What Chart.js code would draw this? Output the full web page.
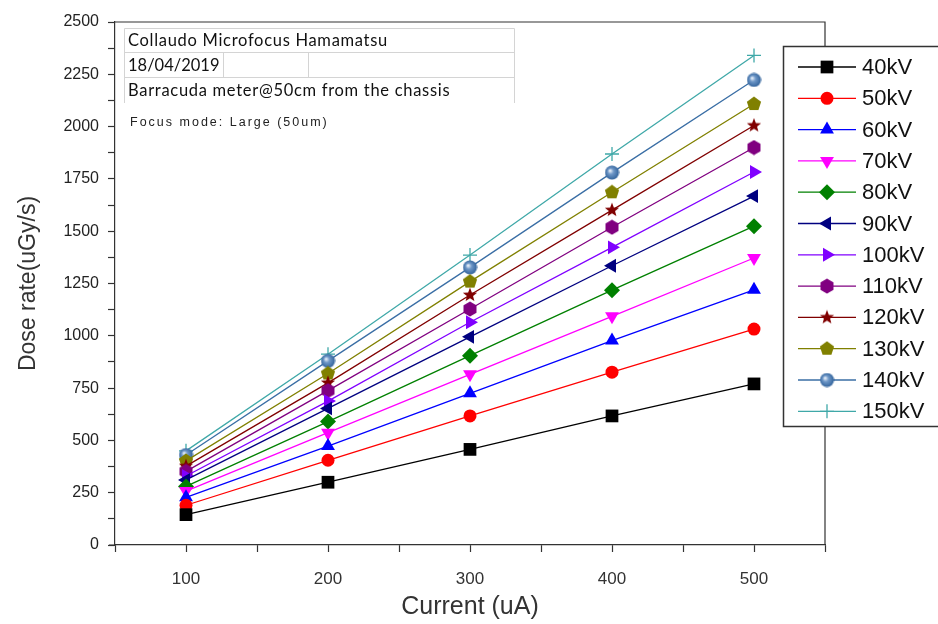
<!DOCTYPE html>
<html>
<head>
<meta charset="utf-8">
<script src="https://cdn.jsdelivr.net/npm/chart.js@4.4.1/dist/chart.umd.min.js"></script>
<style>
  html, body { margin: 0; padding: 0; background: #fff; }
  #wrap { width: 938px; height: 624px; }
</style>
</head>
<body>
<div id="wrap"><canvas id="doseChart" width="938" height="624"></canvas></div>
<script>
// currents (uA) on the x axis
const currents = [100, 200, 300, 400, 500];
const seriesLabels = ['40kV', '50kV', '60kV', '70kV', '80kV', '90kV', '100kV', '110kV', '120kV', '130kV', '140kV', '150kV'];

// dose rate (uGy/s) for each tube voltage
const dose40 = [145, 300, 457, 617, 770];
const dose50 = [190, 405, 617, 826, 1032];
const dose60 = [228, 473, 725, 977, 1220];
const dose70 = [258, 537, 816, 1093, 1372];
const dose80 = [280, 590, 905, 1218, 1524];
const dose90 = [311, 653, 995, 1335, 1668];
const dose100 = [330, 688, 1065, 1423, 1783];
const dose110 = [352, 738, 1128, 1519, 1900];
const dose120 = [377, 775, 1195, 1601, 2005];
const dose130 = [402, 820, 1259, 1686, 2108];
const dose140 = [430, 880, 1327, 1780, 2223];
const dose150 = [450, 912, 1386, 1869, 2340];

const doseSeries = [dose40, dose50, dose60, dose70, dose80, dose90, dose100, dose110, dose120, dose130, dose140, dose150];

const yTicksMajor = 250;
const xTicksMajor = 100;

// small canvases for marker shapes chart.js doesn't have
function shapeCanvas(color, sides, inner) {
  const c = document.createElement('canvas');
  c.width = 16; c.height = 16;
  const g = c.getContext('2d');
  g.fillStyle = color;
  g.beginPath();
  const n = inner ? sides * 2 : sides;
  for (let i = 0; i < n; i++) {
    const r = inner && i % 2 ? 3.2 : 7.5;
    const a = -Math.PI / 2 + i * 2 * Math.PI / n;
    const px = 8 + r * Math.cos(a), py = 8 + r * Math.sin(a);
    if (i === 0) g.moveTo(px, py); else g.lineTo(px, py);
  }
  g.closePath();
  g.fill();
  return c;
}

function ballCanvas(color) {
  const c = document.createElement('canvas');
  c.width = 15; c.height = 15;
  const g = c.getContext('2d');
  const grad = g.createRadialGradient(5.5, 5.5, 0.5, 7.5, 7.5, 7.5);
  grad.addColorStop(0, '#e8f0fa');
  grad.addColorStop(0.35, '#6f98c8');
  grad.addColorStop(1, color);
  g.fillStyle = grad;
  g.beginPath();
  g.arc(7.5, 7.5, 7, 0, Math.PI * 2);
  g.fill();
  return c;
}

const styles = [
  { color: '#000000', point: 'rect', radius: 9 },
  { color: '#ff0000', point: 'circle', radius: 6.5 },
  { color: '#0000ff', point: 'triangle', radius: 8 },
  { color: '#ff00ff', point: 'triangle', radius: 8, rotation: 180 },
  { color: '#008000', point: 'rectRot', radius: 8 },
  { color: '#000080', point: 'triangle', radius: 8, rotation: -90 },
  { color: '#8000ff', point: 'triangle', radius: 8, rotation: 90 },
  { color: '#800080', point: shapeCanvas('#800080', 6, false), radius: 7 },
  { color: '#800000', point: shapeCanvas('#800000', 5, true), radius: 7 },
  { color: '#808000', point: shapeCanvas('#808000', 5, false), radius: 7 },
  { color: '#3a6ea5', point: ballCanvas('#2d5f98'), radius: 7 },
  { color: '#3fa8a8', point: 'cross', radius: 7 }
];

const datasets = seriesLabels.map((label, i) => ({
  label: label,
  data: currents.map((c, j) => ({ x: c, y: doseSeries[i][j] })),
  borderColor: styles[i].color,
  backgroundColor: styles[i].color,
  borderWidth: 1.3,
  pointStyle: styles[i].point,
  pointRadius: styles[i].radius,
  pointRotation: styles[i].rotation || 0,
  pointBorderWidth: styles[i].point === 'cross' ? 1.3 : 0,
  pointHoverRadius: styles[i].radius,
  fill: false,
  tension: 0
}));

const frame = {
  id: 'frame',
  beforeDatasetsDraw(chart) {
    const { ctx, chartArea: a } = chart;
    ctx.save();
    ctx.strokeStyle = '#333';
    ctx.lineWidth = 1.2;
    ctx.beginPath();
    ctx.moveTo(a.left, a.top);
    ctx.lineTo(a.right, a.top);
    ctx.lineTo(a.right, a.bottom);
    ctx.moveTo(a.left - 6, a.bottom);
    ctx.lineTo(a.left, a.bottom);
    ctx.stroke();
    ctx.restore();
  }
};

const infoTable = {
  id: 'infoTable',
  afterDraw(chart) {
    const ctx = chart.ctx;
    ctx.save();
    ctx.strokeStyle = '#d4d4d4';
    ctx.lineWidth = 1;
    ctx.beginPath();
    ctx.moveTo(124.5, 103); ctx.lineTo(124.5, 28.5); ctx.lineTo(514.5, 28.5); ctx.lineTo(514.5, 103);
    ctx.moveTo(124.5, 52.5); ctx.lineTo(514.5, 52.5);
    ctx.moveTo(124.5, 77.5); ctx.lineTo(514.5, 77.5);
    ctx.moveTo(223.5, 52.5); ctx.lineTo(223.5, 77.5);
    ctx.moveTo(308.5, 52.5); ctx.lineTo(308.5, 77.5);
    ctx.stroke();
    ctx.fillStyle = '#111';
    ctx.font = '16.5px Lato, "Open Sans", sans-serif';
    ctx.textBaseline = 'middle';
    ctx.letterSpacing = '0.7px';
    ctx.fillText('Collaudo Microfocus Hamamatsu', 128, 41);
    ctx.fillText('Barracuda meter@50cm from the chassis', 128, 91);
    ctx.letterSpacing = '0px';
    ctx.fillText('18/04/2019', 128, 65.5);
    ctx.fillStyle = '#222';
    ctx.font = '12.5px "Liberation Sans", Arial, sans-serif';
    ctx.letterSpacing = '2px';
    ctx.fillText('Focus mode: Large (50um)', 130, 123);
    ctx.restore();
  }
};

const legendBox = {
  id: 'legendBox',
  afterDraw(chart) {
    const ctx = chart.ctx;
    ctx.save();
    ctx.fillStyle = '#fff';
    ctx.fillRect(783, 46, 160, 381);
    ctx.strokeStyle = '#333';
    ctx.lineWidth = 1.5;
    ctx.strokeRect(783.5, 46.5, 160, 380);
    ctx.font = '22px "Liberation Sans", Arial, sans-serif';
    ctx.textBaseline = 'middle';
    chart.data.datasets.forEach((ds, i) => {
      const y = 67 + i * 31.3;
      ctx.strokeStyle = ds.borderColor;
      ctx.fillStyle = ds.backgroundColor;
      ctx.lineWidth = 1.3;
      ctx.beginPath();
      ctx.moveTo(798, y);
      ctx.lineTo(856, y);
      ctx.stroke();
      Chart.helpers.drawPoint(ctx, {
        pointStyle: ds.pointStyle,
        radius: ds.pointRadius,
        rotation: ds.pointRotation,
        borderWidth: ds.pointBorderWidth
      }, 827, y);
      ctx.fillStyle = '#111';
      ctx.fillText(ds.label, 862, y + 1);
    });
    ctx.restore();
  }
};

const ctx = document.getElementById('doseChart').getContext('2d');
new Chart(ctx, {
  type: 'line',
  data: { datasets: datasets },
  options: {
    responsive: false,
    animation: false,
    events: [],
    layout: { padding: { top: 22, right: 113, left: 0, bottom: 0 } },
    plugins: {
      legend: { display: false },
      tooltip: { enabled: false }
    },
    scales: {
      x: {
        type: 'linear',
        min: 50,
        max: 550,
        afterFit(scale) { scale.height = 79; },
        border: { display: true, color: '#333', width: 1.2 },
        grid: { drawOnChartArea: false, drawTicks: true, tickLength: 7, tickColor: '#333', tickWidth: 1.2 },
        ticks: {
          stepSize: 50,
          autoSkip: false,
          maxRotation: 0,
          padding: 17,
          color: '#333',
          font: { family: '"Liberation Sans", Arial, sans-serif', size: 17 },
          callback: (v) => (v % xTicksMajor === 0 && v >= 100 && v <= 500 ? String(v) : '')
        },
        title: {
          display: true,
          text: 'Current (uA)',
          color: '#333',
          padding: { top: 0, bottom: 2 },
          font: { family: '"Liberation Sans", Arial, sans-serif', size: 25 }
        }
      },
      y: {
        min: 0,
        max: 2500,
        afterFit(scale) { scale.width = 115; },
        border: { display: true, color: '#333', width: 1.2 },
        grid: { drawOnChartArea: false, drawTicks: true, tickLength: 7, tickColor: '#333', tickWidth: 1.2 },
        ticks: {
          stepSize: 125,
          autoSkip: false,
          padding: 9,
          color: '#222',
          font: { family: '"Liberation Sans", Arial, sans-serif', size: 16 },
          callback: (v) => (v % yTicksMajor === 0 ? String(v) : '')
        },
        title: {
          display: true,
          text: 'Dose rate(uGy/s)',
          color: '#333',
          padding: { top: 15, bottom: 0 },
          font: { family: '"Liberation Sans", Arial, sans-serif', size: 23 }
        }
      }
    }
  },
  plugins: [frame, infoTable, legendBox]
});
</script>
</body>
</html>
